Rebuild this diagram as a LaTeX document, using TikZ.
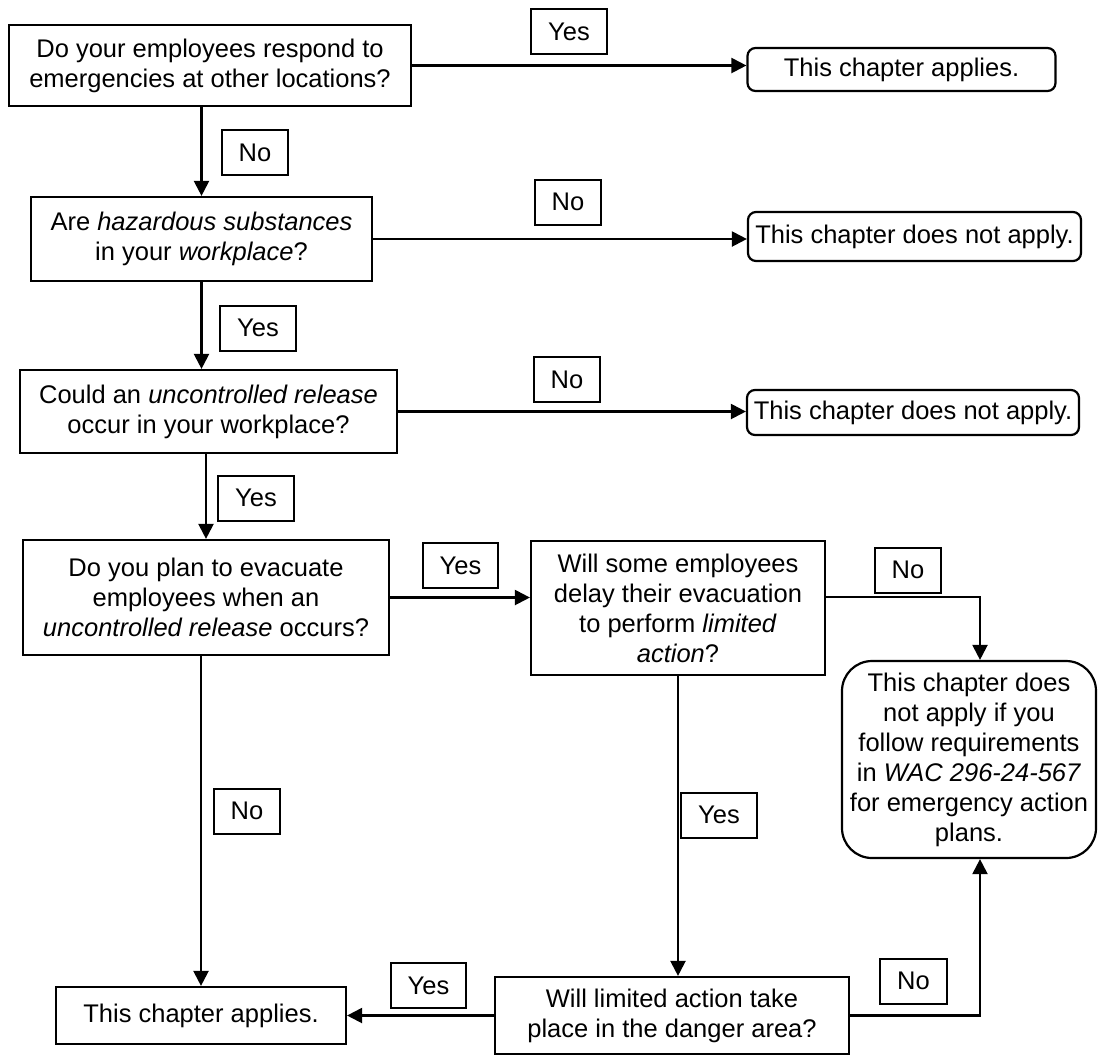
\documentclass[tikz,border=0pt]{standalone}
\usepackage{fontspec}
\setmainfont{Liberation Sans}
\usetikzlibrary{arrows.meta}
\tikzstyle{question}=[draw,line width=1.1pt,align=center,inner xsep=2pt,inner ysep=0pt]
\tikzstyle{verdict}=[question,rounded corners=4pt]
\tikzstyle{answer}=[draw,line width=1pt,minimum height=22.5pt,inner xsep=8.5pt,inner ysep=0pt]
\tikzstyle{flow}=[line width=1.1pt,-{Triangle[length=7.5pt,width=7.5pt]}]
\begin{document}
\begin{tikzpicture}[x=0.5pt,y=-0.5pt,font=\fontsize{12.75}{15}\selectfont]
\useasboundingbox (0,0) rectangle (1098,1057);

% questions
\node[question,minimum width=201pt,minimum height=40.5pt] (q1) at (210,65.5) {Do your employees respond to\\emergencies at other locations?};
\node[question,minimum width=170.5pt,minimum height=42pt] (q2) at (201.5,239) {Are \textit{hazardous substances}\\in your \textit{workplace}?};
\node[question,minimum width=188.5pt,minimum height=41.5pt] (q3) at (208.5,411.5) {Could an \textit{uncontrolled release}\\occur in your workplace?};
\node[question,minimum width=183pt,minimum height=57.5pt] (q4) at (206,597.5) {Do you plan to evacuate\\employees when an\\\textit{uncontrolled release} occurs?};
\node[question,minimum width=147pt,minimum height=67pt] (q5) at (678,608) {Will some employees\\delay their evacuation\\to perform \textit{limited}\\\textit{action}?};
\node[question,minimum width=177pt,minimum height=38.5pt] (q6) at (672,1015.5) {Will limited action take\\place in the danger area?};

% outcomes
\node[verdict,minimum width=154pt,minimum height=21.5pt] (r1) at (901.5,69.5) {This chapter applies.};
\node[verdict,minimum width=166.5pt,minimum height=24.5pt] (r2) at (914.5,236.5) {This chapter does not apply.};
\node[verdict,minimum width=166pt,minimum height=22.5pt] (r3) at (913,412.5) {This chapter does not apply.};
\node[verdict,rounded corners=15pt,minimum width=127pt,minimum height=98.5pt] (r4) at (969,759.5) {This chapter does\\not apply if you\\follow requirements\\in \textit{WAC 296-24-567}\\for emergency action\\plans.};
\node[question,minimum width=145pt,minimum height=28.5pt] (r5) at (201,1015.5) {This chapter applies.};

% answers
\node[answer] (yes1) at (569,31.5) {Yes};
\node[answer] (no1) at (255,152.5) {No};
\node[answer] (no2) at (568,202) {No};
\node[answer] (yes2) at (258,328) {Yes};
\node[answer] (no3) at (567,379.5) {No};
\node[answer] (yes3) at (256,498) {Yes};
\node[answer] (yes4) at (460.5,565.5) {Yes};
\node[answer] (no4) at (908,570) {No};
\node[answer] (no5) at (247,811) {No};
\node[answer] (yes5) at (719,815) {Yes};
\node[answer] (yes6) at (428.5,985.5) {Yes};
\node[answer] (no6) at (913.5,981) {No};

% connectors
\draw[flow] (q1.east) -- (q1.east -| r1.west);
\draw[flow] (q2.north |- q1.south) -- (q2.north);
\draw[flow] (q2.east) -- (q2.east -| r2.west);
\draw[flow] (q2.south) -- (q2.south |- q3.north);
\draw[flow] (q3.east) -- (q3.east -| r3.west);
\draw[flow] (q4.north |- q3.south) -- (q4.north);
\draw[flow] (q4.east) -- (q4.east -| q5.west);
\draw[flow] ([yshift=5.5pt]q5.east) -| ([xshift=5.5pt]r4.north);
\draw[flow] (q5.south) -- (q5.south |- q6.north);
\draw[flow] (r5.north |- q4.south) -- (r5.north);
\draw[flow] (q6.west) -- (r5.east);
\draw[flow] (q6.east) -| ([xshift=5.5pt]r4.south);
\end{tikzpicture}
\end{document}
